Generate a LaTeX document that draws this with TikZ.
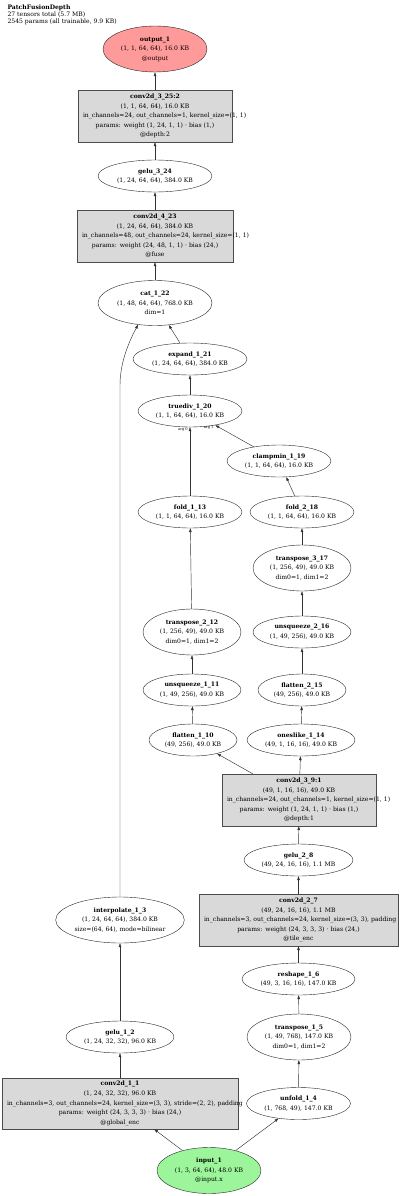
\documentclass[tikz,border=0pt]{standalone}
\usepackage{fontspec}
\setmainfont{DejaVu Serif}
\usepackage{tikz}
\usetikzlibrary{shapes.geometric,arrows.meta}
\definecolor{outred}{HTML}{FF9A9A}
\definecolor{ingreen}{HTML}{9CF59A}
\definecolor{layergray}{HTML}{D9D9D9}

\begin{document}
\begin{tikzpicture}[
    x=1pt, y=-1pt,
    every node/.style={font=\fontsize{6.1}{9.6}\selectfont, align=center},
    op/.style={ellipse, draw=black!85, fill=white, inner sep=0pt, minimum height=32pt},
    tall/.style={minimum height=46pt},
    layer/.style={rectangle, draw=black!70, fill=layergray, inner xsep=5pt, inner ysep=0pt,
                  minimum height=52pt},
    edge/.style={draw=black!80, line width=0.45pt, -{Triangle[length=4pt,width=2.6pt]}},
    arglabel/.style={font=\fontsize{3.6}{4}\selectfont, inner sep=0.5pt}
  ]
  \useasboundingbox (0,0) rectangle (400,1196);
  \node[anchor=north west, align=left, font=\fontsize{6.1}{7}\selectfont] (title) at (4,1)
    {\textbf{PatchFusionDepth}\\27 tensors total (5.7 MB)\\2545 params (all trainable, 9.9 KB)};

  \node[op, tall, fill=outred, minimum width=104pt] (output_1) at (155,49)
    {\textbf{output\_1}\\(1, 1, 64, 64), 16.0 KB\\@output};
  \node[layer, text width=144pt] (conv2d_3_25) at (155,116)
    {\textbf{conv2d\_3\_25:2}\\(1, 1, 64, 64), 16.0 KB\\\mbox{in\_channels=24, out\_channels=1, kernel\_size=(1, 1)}\\params: weight (1, 24, 1, 1) · bias (1,)\\@depth:2};
  \node[op, minimum width=114pt] (gelu_3_24) at (155,176)
    {\textbf{gelu\_3\_24}\\(1, 24, 64, 64), 384.0 KB};
  \node[layer, text width=146pt] (conv2d_4_23) at (155,236)
    {\textbf{conv2d\_4\_23}\\(1, 24, 64, 64), 384.0 KB\\\mbox{in\_channels=48, out\_channels=24, kernel\_size=(1, 1)}\\params: weight (24, 48, 1, 1) · bias (24,)\\@fuse};
  \node[op, tall, minimum width=114pt, minimum height=45pt] (cat_1_22) at (155,303)
    {\textbf{cat\_1\_22}\\(1, 48, 64, 64), 768.0 KB\\dim=1};
  \node[op, minimum width=114pt] (expand_1_21) at (190,359)
    {\textbf{expand\_1\_21}\\(1, 24, 64, 64), 384.0 KB};
  \node[op, minimum width=104pt] (truediv_1_20) at (190,411)
    {\textbf{truediv\_1\_20}\\(1, 1, 64, 64), 16.0 KB};
  \node[op, minimum width=104pt] (clampmin_1_19) at (279,461)
    {\textbf{clampmin\_1\_19}\\(1, 1, 64, 64), 16.0 KB};
  \node[op, minimum width=104pt] (fold_1_13) at (190,512)
    {\textbf{fold\_1\_13}\\(1, 1, 64, 64), 16.0 KB};
  \node[op, minimum width=104pt] (fold_2_18) at (302,512)
    {\textbf{fold\_2\_18}\\(1, 1, 64, 64), 16.0 KB};
  \node[op, tall, minimum width=98pt] (transpose_3_17) at (302,568)
    {\textbf{transpose\_3\_17}\\(1, 256, 49), 49.0 KB\\dim0=1, dim1=2};
  \node[op, tall, minimum width=98pt] (transpose_2_12) at (192,632)
    {\textbf{transpose\_2\_12}\\(1, 256, 49), 49.0 KB\\dim0=1, dim1=2};
  \node[op, minimum width=98pt] (unsqueeze_2_16) at (302,632)
    {\textbf{unsqueeze\_2\_16}\\(1, 49, 256), 49.0 KB};
  \node[op, minimum width=98pt] (unsqueeze_1_11) at (192,690)
    {\textbf{unsqueeze\_1\_11}\\(1, 49, 256), 49.0 KB};
  \node[op, minimum width=88pt] (flatten_2_15) at (302,690)
    {\textbf{flatten\_2\_15}\\(49, 256), 49.0 KB};
  \node[op, minimum width=88pt] (flatten_1_10) at (193,740)
    {\textbf{flatten\_1\_10}\\(49, 256), 49.0 KB};
  \node[op, minimum width=108pt] (oneslike_1_14) at (301,740)
    {\textbf{oneslike\_1\_14}\\(49, 1, 16, 16), 49.0 KB};
  \node[layer, text width=144pt] (conv2d_3_9) at (299,800)
    {\textbf{conv2d\_3\_9:1}\\(49, 1, 16, 16), 49.0 KB\\\mbox{in\_channels=24, out\_channels=1, kernel\_size=(1, 1)}\\params: weight (1, 24, 1, 1) · bias (1,)\\@depth:1};
  \node[op, minimum width=109pt] (gelu_2_8) at (298.5,860)
    {\textbf{gelu\_2\_8}\\(49, 24, 16, 16), 1.1 MB};
  \node[layer, text width=189pt] (conv2d_2_7) at (298.5,920)
    {\textbf{conv2d\_2\_7}\\(49, 24, 16, 16), 1.1 MB\\\mbox{in\_channels=3, out\_channels=24, kernel\_size=(3, 3), padding}\\params: weight (24, 3, 3, 3) · bias (24,)\\@tile\_enc};
  \node[op, tall, minimum width=128pt] (interpolate_1_3) at (120,920)
    {\textbf{interpolate\_1\_3}\\(1, 24, 64, 64), 384.0 KB\\size=(64, 64), mode=bilinear};
  \node[op, minimum width=113pt] (reshape_1_6) at (298.5,979)
    {\textbf{reshape\_1\_6}\\(49, 3, 16, 16), 147.0 KB};
  \node[op, tall, minimum width=104pt] (transpose_1_5) at (299,1037)
    {\textbf{transpose\_1\_5}\\(1, 49, 768), 147.0 KB\\dim0=1, dim1=2};
  \node[op, minimum width=108pt] (gelu_1_2) at (120,1037)
    {\textbf{gelu\_1\_2}\\(1, 24, 32, 32), 96.0 KB};
  \node[layer, text width=226pt, minimum height=51pt] (conv2d_1_1) at (120,1103.5)
    {\textbf{conv2d\_1\_1}\\(1, 24, 32, 32), 96.0 KB\\\mbox{in\_channels=3, out\_channels=24, kernel\_size=(3, 3), stride=(2, 2), padding}\\params: weight (24, 3, 3, 3) · bias (24,)\\@global\_enc};
  \node[op, minimum width=104pt] (unfold_1_4) at (298.5,1103.5)
    {\textbf{unfold\_1\_4}\\(1, 768, 49), 147.0 KB};
  \node[op, tall, fill=ingreen, minimum width=104pt] (input_1) at (209,1170.5)
    {\textbf{input\_1}\\(1, 3, 64, 64), 48.0 KB\\@input.x};

  \coordinate (interp_bend) at (120,385);

  \draw[edge] (input_1) -- (conv2d_1_1);
  \draw[edge] (input_1) -- (unfold_1_4);
  \draw[edge] (conv2d_1_1) -- (gelu_1_2);
  \draw[edge] (gelu_1_2) -- (interpolate_1_3);
  \draw[edge] (interpolate_1_3) -- (interp_bend) .. controls (120,360) and (131,338) .. (cat_1_22.-128);
  \draw[edge] (unfold_1_4) -- (transpose_1_5);
  \draw[edge] (transpose_1_5) -- (reshape_1_6);
  \draw[edge] (reshape_1_6) -- (conv2d_2_7);
  \draw[edge] (conv2d_2_7) -- (gelu_2_8);
  \draw[edge] (gelu_2_8) -- (conv2d_3_9);
  \draw[edge] (conv2d_3_9) -- (flatten_1_10);
  \draw[edge] (conv2d_3_9) -- (oneslike_1_14);
  \draw[edge] (flatten_1_10) -- (unsqueeze_1_11);
  \draw[edge] (unsqueeze_1_11) -- (transpose_2_12);
  \draw[edge] (transpose_2_12) -- (fold_1_13);
  \draw[edge] (oneslike_1_14) -- (flatten_2_15);
  \draw[edge] (flatten_2_15) -- (unsqueeze_2_16);
  \draw[edge] (unsqueeze_2_16) -- (transpose_3_17);
  \draw[edge] (transpose_3_17) -- (fold_2_18);
  \draw[edge] (fold_2_18) -- (clampmin_1_19);
  \draw[edge] (fold_1_13) -- node[arglabel, pos=1, anchor=north east, xshift=-1.5pt] {arg 0} (truediv_1_20);
  \draw[edge] (clampmin_1_19) -- node[arglabel, pos=1, anchor=north east, xshift=-1pt] {arg 1} (truediv_1_20);
  \draw[edge] (truediv_1_20) -- (expand_1_21);
  \draw[edge] (expand_1_21) -- (cat_1_22);
  \draw[edge] (cat_1_22) -- (conv2d_4_23);
  \draw[edge] (conv2d_4_23) -- (gelu_3_24);
  \draw[edge] (gelu_3_24) -- (conv2d_3_25);
  \draw[edge] (conv2d_3_25) -- (output_1);
\end{tikzpicture}
\end{document}
